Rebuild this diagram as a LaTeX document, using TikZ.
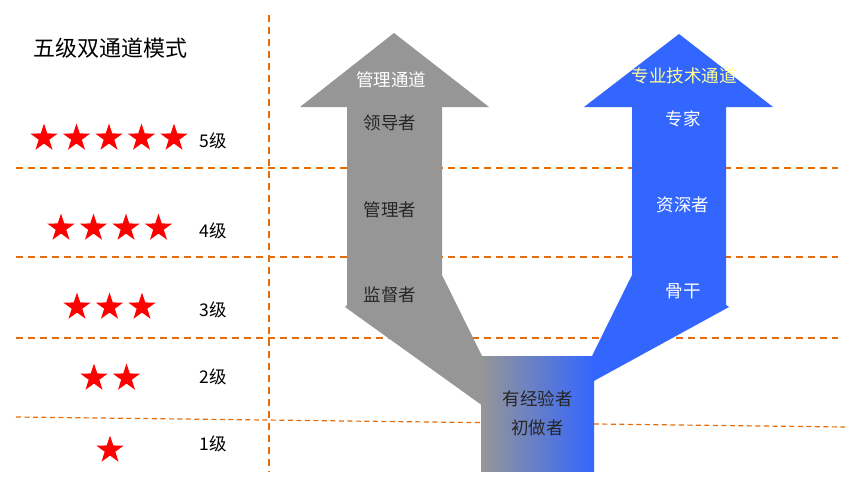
\documentclass[tikz,border=0pt]{standalone}
\usepackage{fontspec}
\newfontfamily\cjk{Noto Sans CJK SC}
\usetikzlibrary{shapes.geometric}
\definecolor{dashorange}{RGB}{228,108,10}
\definecolor{mgray}{RGB}{150,150,150}
\definecolor{tblue}{RGB}{51,102,255}
\definecolor{paleyellow}{RGB}{255,255,153}
\tikzset{
  redstar/.style={star, star points=5, star point ratio=2.6, fill=red, inner sep=0pt, minimum size=29pt},
  lvl/.style={font=\cjk\fontsize{17.5}{20}\selectfont, text=black},
  txt/.style={font=\cjk\fontsize{17.5}{20}\selectfont},
  sepline/.style={dashorange, line width=1.4pt, dash pattern=on 7pt off 5pt},
}
\begin{document}
\begin{tikzpicture}[x=1pt, y=-1pt]
  \useasboundingbox (0,0) rectangle (867,479);
  % separators
  \draw[sepline] (269,15) -- (269,472);
  \draw[sepline] (16,168) -- (838,168);
  \draw[sepline] (16,257) -- (838,257);
  \draw[sepline] (16,338) -- (838,338);
  \draw[dashorange, line width=1.2pt, dash pattern=on 5pt off 3.5pt] (16,417) -- (845,427);
  % the two arrows
  \fill[mgray] (394,33) -- (489,107) -- (442,107) -- (442,275) -- (483,358) -- (483,406)
    -- (345,307) -- (347,305) -- (347,107) -- (300,107) -- cycle;
  \fill[tblue] (679,34) -- (773,107) -- (726,107) -- (726,305) -- (729,307) -- (592,382)
    -- (592,356) -- (632,275) -- (632,107) -- (584,107) -- cycle;
  \node[txt, left color=mgray, right color=tblue, minimum width=113pt, minimum height=115pt,
    inner sep=0pt, align=center, text=black!85, font=\cjk\fontsize{17.5}{29}\selectfont]
    (base) at (537.5,413.5) {有经验者\\初做者};
  % title
  \node[font=\cjk\fontsize{22}{24}\selectfont] (title) at (110,48) {五级双通道模式};
  % stars
  \foreach \n/\y/\xs in {5/138/44, 4/228/61, 3/307/77, 2/378/94, 1/450/110} {
    \foreach \i in {1,...,\n}
      \node[redstar] (s\n\i) at ({\xs+32.5*(\i-1)},\y) {};
  }
  \node[lvl] (l5) at (213,141) {5级};
  \node[lvl] (l4) at (213,231) {4级};
  \node[lvl] (l3) at (213,310) {3级};
  \node[lvl] (l2) at (213,377) {2级};
  \node[lvl] (l1) at (213,444) {1级};
  % management path
  \node[txt, text=white] (mgmt) at (391,80) {管理通道};
  \node[txt, text=black!85] (leader) at (390,123) {领导者};
  \node[txt, text=black!85] (manager) at (390,210) {管理者};
  \node[txt, text=black!85] (super) at (390,295) {监督者};
  % technical path
  \node[txt, text=paleyellow] (tech) at (684,76) {专业技术通道};
  \node[txt, text=white] (expert) at (683,119) {专家};
  \node[txt, text=white] (senior) at (683,205) {资深者};
  \node[txt, text=white] (core) at (683,291) {骨干};
\end{tikzpicture}
\end{document}
